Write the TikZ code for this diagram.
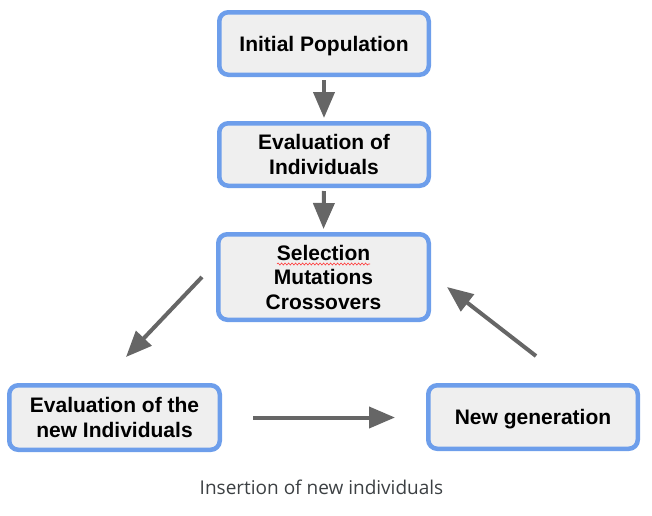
\documentclass[tikz,border=0pt]{standalone}
\usepackage{fontspec}
\setmainfont{Liberation Sans}
\newfontfamily\capfont{Open Sans}
\usetikzlibrary{arrows.meta,decorations.pathmorphing}
\definecolor{boxblue}{HTML}{6D9EEB}
\definecolor{boxfill}{HTML}{EFEFEF}
\definecolor{arrgray}{HTML}{666666}
\definecolor{capgray}{HTML}{3C4043}
\begin{document}
\begin{tikzpicture}[x=1pt,y=-1pt,
  gbox/.style={draw=boxblue,fill=boxfill,line width=4.5pt,rounded corners=9pt,
    inner sep=0pt,align=center,font=\fontsize{21}{24.5}\selectfont\bfseries,
    text=black,text depth=0pt},
  garrow/.style={draw=arrgray,line width=4pt,
    -{Triangle[length=26pt,width=21pt]}}]
\useasboundingbox (0,0) rectangle (652,515);
\node[gbox,minimum width=209.5pt,minimum height=62.5pt] (ip) at (324,43.5) {Initial Population};
\node[gbox,minimum width=209.5pt,minimum height=62.5pt] (ev) at (324,154.5) {Evaluation of\\Individuals};
\node[gbox,minimum width=210.5pt,minimum height=85.5pt] (sel) at (323.5,277) {Selection\\Mutations\\Crossovers};
\node[gbox,minimum width=210.5pt,minimum height=64.5pt] (en) at (114.5,417.5) {Evaluation of the\\new Individuals};
\node[gbox,minimum width=209.5pt,minimum height=63.5pt] (ng) at (533,417) {New generation};
\node[font=\capfont\fontsize{19}{22}\selectfont,text=capgray,inner sep=0pt] (cap) at (321.5,487) {Insertion of new individuals};
\coordinate (d1s) at (202,277);
\coordinate (d1e) at (126,357);
\coordinate (d2s) at (536,356);
\coordinate (d2e) at (447,287);
\coordinate (w1) at (277,264);
\coordinate (w2) at (370,264);
\draw[garrow,shorten <=3pt,shorten >=3pt] (ip.south) -- (ev.north);
\draw[garrow,shorten <=3pt,shorten >=3pt] (ev.south) -- (sel.north);
\draw[garrow] (d1s) -- (d1e);
\draw[garrow,shorten <=31pt,shorten >=31pt] (en.east) -- (en.east -| ng.west);
\draw[garrow] (d2s) -- (d2e);
\draw[red!80,line width=0.6pt,decorate,decoration={snake,amplitude=1pt,segment length=3.5pt}] (w1) -- (w2);
\end{tikzpicture}
\end{document}
